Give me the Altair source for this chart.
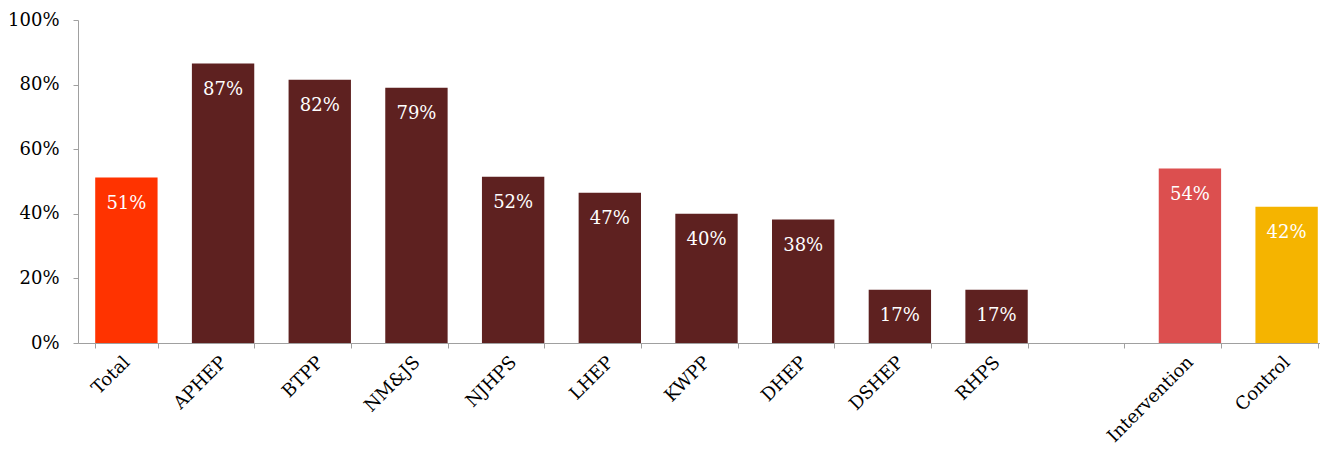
import altair as alt
import pandas as pd

categories = ["Total", "APHEP", "BTPP", "NM&JS", "NJHPS", "LHEP", "KWPP",
              "DHEP", "DSHEP", "RHPS", " ", "Intervention", "Control"]
values = [0.512, 0.865, 0.815, 0.790, 0.515, 0.465, 0.400,
          0.382, 0.165, 0.165, None, 0.540, 0.422]
labels = ["51%", "87%", "82%", "79%", "52%", "47%", "40%",
          "38%", "17%", "17%", "", "54%", "42%"]
colors = ["#FF3300", "#5E2120", "#5E2120", "#5E2120", "#5E2120", "#5E2120", "#5E2120",
          "#5E2120", "#5E2120", "#5E2120", "#FFFFFF", "#DC4F4F", "#F5B400"]

df = pd.DataFrame({"cat": categories, "val": values, "lab": labels})

FONT = "DejaVu Serif"

xscale = alt.Scale(paddingInner=0.355, paddingOuter=0.178, range=[0, 1257])

x = alt.X("cat:N", sort=categories, title=None, scale=xscale,
          axis=alt.Axis(labelAngle=-45, labelAlign="right", labelBaseline="top",
                        labelFont=FONT, labelFontSize=18, labelColor="#000000",
                        tickBand="extent", tickSize=5, tickColor="#A0A0A0",
                        domainColor="#A0A0A0", labelPadding=5, labelOffset=-6))

bars = alt.Chart(df).mark_bar().encode(
    x=x,
    y=alt.Y("val:Q", title=None,
            scale=alt.Scale(domain=[0, 1], nice=False),
            axis=alt.Axis(values=[0, 0.2, 0.4, 0.6, 0.8, 1.0], format=".0%",
                          grid=False, labelFont=FONT, labelFontSize=18,
                          labelColor="#000000", tickSize=5, tickColor="#A0A0A0",
                          domainColor="#A0A0A0", labelPadding=14)),
    color=alt.Color("cat:N", scale=alt.Scale(domain=categories, range=colors), legend=None),
)

text = alt.Chart(df).mark_text(font=FONT, fontSize=18, color="white",
                               baseline="middle", dy=26).encode(
    x=alt.X("cat:N", sort=categories),
    y=alt.Y("val:Q"),
    text="lab:N",
)

chart = (bars + text).properties(
    width=1240, height=323,
    background="white",
    autosize=alt.AutoSizeParams(type="none"),
    padding={"left": 78, "top": 20, "right": 2, "bottom": 107},
).configure_view(stroke=None)

chart.save("out.html", embed_options={"renderer": "svg", "actions": False})
